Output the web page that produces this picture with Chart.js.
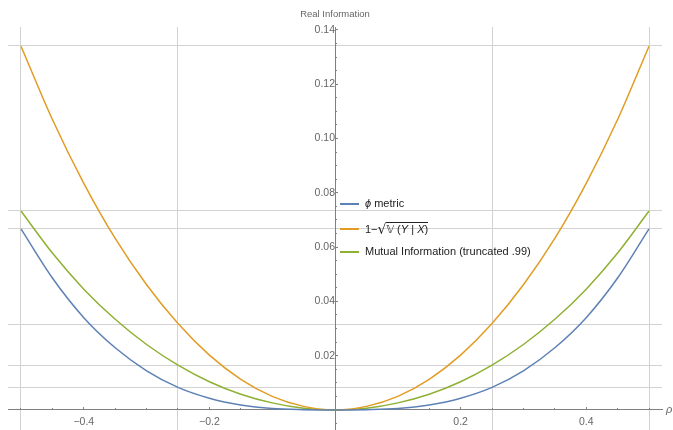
<!DOCTYPE html>
<html><head><meta charset="utf-8">
<script src="https://cdn.jsdelivr.net/npm/chart.js@4.4.1/dist/chart.umd.min.js"></script>
<style>
html,body{margin:0;padding:0;background:#fff;}
#wrap{position:relative;width:673px;height:430px;overflow:hidden;}
#legend{position:absolute;left:0;top:0;font-family:"Liberation Sans",Arial,sans-serif;font-size:11px;color:#222;}
.row{position:absolute;left:340px;height:20px;white-space:nowrap;}
.sw{position:absolute;left:0;top:9.25px;width:19px;height:1.5px;}
.tx{position:absolute;left:25px;top:3px;line-height:13px;}
.rad{font-family:"DejaVu Sans";font-size:14px;position:relative;top:1px;}
.ov{border-top:1px solid #222;padding-top:0px;display:inline-block;line-height:12px;}
.dbl{font-family:"DejaVu Sans";font-size:10.5px;}
#rho{position:absolute;left:666px;top:403px;font-family:"Liberation Sans",Arial,sans-serif;font-style:italic;font-size:11px;color:#666;}
</style></head><body>
<div id="wrap"><canvas id="c" width="673" height="430"></canvas><div id="legend"></div><span id="rho">ρ</span></div>
<script>
// x values (ρ)
const xs = [-0.5,-0.45,-0.4,-0.35,-0.3,-0.25,-0.2,-0.15,-0.1,-0.05,0,0.05,0.1,0.15,0.2,0.25,0.3,0.35,0.4,0.45,0.5];
// series values
const phiMetric = [0.0667,0.0486,0.0340,0.0229,0.0144,0.0083,0.0043,0.0018,0.0005,0.0001,0,0.0001,0.0005,0.0018,0.0043,0.0083,0.0144,0.0229,0.0340,0.0486,0.0667];
const oneMinusSqrtV = [0.1340,0.1070,0.0835,0.0632,0.0461,0.0318,0.0202,0.0113,0.0050,0.0013,0,0.0013,0.0050,0.0113,0.0202,0.0318,0.0461,0.0632,0.0835,0.1070,0.1340];
const mutualInfo = [0.0733,0.0578,0.0445,0.0334,0.0241,0.0165,0.0104,0.0058,0.0026,0.0006,0,0.0006,0.0026,0.0058,0.0104,0.0165,0.0241,0.0334,0.0445,0.0578,0.0733];
const seriesLabels = ['ϕ metric','1−√𝕍(Y | X)','Mutual Information (truncated .99)'];
const seriesColors = ['#5E81B5','#E19C24','#8FB032'];
// ticks and grid lines
const xMajorTicks = [-0.4,-0.2,0.2,0.4];
const xMinorTicks = [-0.5,-0.45,-0.35,-0.3,-0.25,-0.15,-0.1,-0.05,0.05,0.1,0.15,0.25,0.3,0.35,0.45,0.5];
const yMajorTicks = [0.02,0.04,0.06,0.08,0.10,0.12,0.14];
const yMinorTicks = [-0.005,0.005,0.01,0.015,0.025,0.03,0.035,0.045,0.05,0.055,0.065,0.07,0.075,0.085,0.09,0.095,0.105,0.11,0.115,0.125,0.13,0.135];
const xGridLines = [-0.5,-0.25,0.25,0.5];
const yGridLines = [0.0081,0.0163,0.0316,0.0669,0.0733,0.1341];
const xRange = [-0.5207,0.5207];
const yRange = [-0.0074,0.1411];

const axisColor = '#808080';
const labelColor = '#666';
const gridColor = '#d2d2d2';
const tickFont = {family:'Liberation Sans', size:10.5};

function setTicks(arr){ return s => { s.ticks = arr.map(v => ({value:v})); }; }
function noPad(s){ s.paddingLeft = 0; s.paddingRight = 0; s.paddingTop = 0; s.paddingBottom = 0; }

const seriesData = [phiMetric, oneMinusSqrtV, mutualInfo];
const datasets = seriesData.map((arr,i) => ({
  label: seriesLabels[i],
  data: xs.map((x,j) => ({x:x, y:arr[j]})),
  borderColor: seriesColors[i],
  backgroundColor: seriesColors[i],
  borderWidth: 1.5,
  pointRadius: 0,
  cubicInterpolationMode: 'monotone',
  fill: false,
  xAxisID: 'x', yAxisID: 'y'
}));

const hiddenTicks = {display:false};
const chart = new Chart(document.getElementById('c'), {
  type: 'line',
  data: {datasets},
  options: {
    responsive:false, animation:false, events:[],
    layout:{padding:{left:8,right:11,top:0,bottom:0}, autoPadding:false},
    plugins:{
      legend:{display:false}, tooltip:{enabled:false},
      title:{display:true, text:'Real Information', color:labelColor, font:{family:'Liberation Sans', size:9.5, weight:'normal'}, padding:{top:9,bottom:6.6}}
    },
    scales:{
      xg:{axis:'x', type:'linear', min:xRange[0], max:xRange[1], position:{y:0},
        afterBuildTicks:setTicks(xGridLines), afterFit:noPad,
        ticks:hiddenTicks, border:{display:false},
        grid:{drawOnChartArea:true, drawTicks:false, color:gridColor, lineWidth:1}},
      yg:{axis:'y', type:'linear', min:yRange[0], max:yRange[1], position:{x:0},
        afterBuildTicks:setTicks(yGridLines), afterFit:noPad,
        ticks:hiddenTicks, border:{display:false},
        grid:{drawOnChartArea:true, drawTicks:false, color:gridColor, lineWidth:1}},
      x:{axis:'x', type:'linear', min:xRange[0], max:xRange[1], position:{y:0},
        afterBuildTicks:setTicks(xMajorTicks), afterFit:noPad,
        ticks:{color:labelColor, font:tickFont, padding:8.5, autoSkip:false, maxRotation:0,
          callback:v => (v<0?'−':'') + Math.abs(v).toFixed(1)},
        border:{display:true, color:axisColor, width:1},
        grid:{drawOnChartArea:false, drawTicks:true, tickLength:-3, tickColor:axisColor}},
      xm:{axis:'x', type:'linear', min:xRange[0], max:xRange[1], position:{y:0},
        afterBuildTicks:setTicks(xMinorTicks), afterFit:noPad,
        ticks:hiddenTicks, border:{display:false},
        grid:{drawOnChartArea:false, drawTicks:true, tickLength:-2, tickColor:axisColor}},
      y:{axis:'y', type:'linear', min:yRange[0], max:yRange[1], position:{x:0},
        afterBuildTicks:setTicks(yMajorTicks), afterFit:noPad,
        ticks:{color:labelColor, font:tickFont, padding:5.5, autoSkip:false,
          callback:v => v.toFixed(2)},
        border:{display:true, color:axisColor, width:1},
        grid:{drawOnChartArea:false, drawTicks:true, tickLength:-3, tickColor:axisColor}},
      ym:{axis:'y', type:'linear', min:yRange[0], max:yRange[1], position:{x:0},
        afterBuildTicks:setTicks(yMinorTicks), afterFit:noPad,
        ticks:hiddenTicks, border:{display:false},
        grid:{drawOnChartArea:false, drawTicks:true, tickLength:-2, tickColor:axisColor}}
    }
  }
});

// HTML legend built from the datasets
const legendRowsY = [194, 219, 242];
const legendHtml = [
  '<i>ϕ</i> metric',
  '1−<span class="rad">√</span><span class="ov"><span class="dbl">𝕍</span> (<i>Y</i> | <i>X</i>)</span>',
  'Mutual Information (truncated .99)'
];
const lg = document.getElementById('legend');
chart.data.datasets.forEach((ds,i) => {
  const row = document.createElement('div');
  row.className = 'row';
  row.style.top = legendRowsY[i] + 'px';
  row.innerHTML = '<div class="sw" style="background:' + ds.borderColor + '"></div><div class="tx">' + legendHtml[i] + '</div>';
  lg.appendChild(row);
});
</script>
</body></html>
